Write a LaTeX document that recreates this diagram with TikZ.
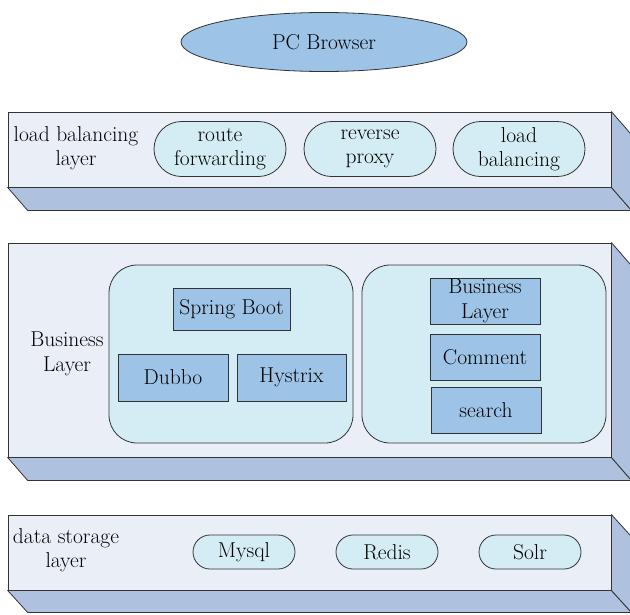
\documentclass[tikz,border=0pt]{standalone}
\usetikzlibrary{shapes.geometric,shapes.misc}
\definecolor{boxblue}{HTML}{9DC3E6}
\definecolor{pillcyan}{HTML}{D4ECF3}
\definecolor{layerfront}{HTML}{E9EEF7}
\definecolor{layerside}{HTML}{AEC2E0}
\tikzset{
  every node/.style={font=\fontsize{21.5}{24.5}\selectfont, text=black},
  layer/.style={draw, fill=layerfront, minimum width=603, inner sep=0},
  side/.style={draw, fill=layerside, line join=round},
  pill/.style={draw, fill=pillcyan, rounded rectangle, align=center, inner sep=0},
  group/.style={draw, fill=pillcyan, rounded corners=28, minimum width=244, minimum height=178},
  blk/.style={draw, fill=boxblue, minimum width=110, minimum height=47, inner sep=0, align=center},
}
\begin{document}
\begin{tikzpicture}[x=1pt, y=-1pt, line width=0.8pt, draw=black!80]
\useasboundingbox (0,0) rectangle (630,614);
% browser
\node[draw, fill=boxblue, ellipse, minimum width=286, minimum height=59] (pc) at (324,42) {PC Browser};

% load balancing layer
\node[layer, minimum height=75] (l1) at (309.5,149.5) {};
\path[side] (l1.south west) -- (l1.south east) -- ++(20,23) -- ([shift={(20,23)}]l1.south west) -- cycle;
\path[side] (l1.north east) -- ++(20,23) -- ([shift={(20,23)}]l1.south east) -- (l1.south east) -- cycle;
\node[align=center] (t1) at (76,148) {load balancing\\layer};
\node[pill, minimum width=132, minimum height=55] (route) at (220,149) {route\\forwarding};
\node[pill, minimum width=132, minimum height=55] (proxy) at (370,149) {reverse\\proxy};
\node[pill, minimum width=132, minimum height=55] (lb) at (519,149) {load\\balancing};

% business layer
\node[layer, minimum height=214] (l2) at (309.5,350) {};
\path[side] (l2.south west) -- (l2.south east) -- ++(20,23) -- ([shift={(20,23)}]l2.south west) -- cycle;
\path[side] (l2.north east) -- ++(20,23) -- ([shift={(20,23)}]l2.south east) -- (l2.south east) -- cycle;
\node[align=center] (t2) at (67,354) {Business\\Layer};
\node[group] (g1) at (231,354) {};
\node[group] (g2) at (484,354) {};
\node[blk, minimum width=117, minimum height=42] (spring) at (231.5,309) {Spring Boot};
\node[blk] (dubbo) at (173,377.5) {Dubbo};
\node[blk, minimum width=109] (hystrix) at (291.5,377.5) {Hystrix};
\node[blk, minimum height=46] (biz) at (485,301) {Business\\Layer};
\node[blk, minimum height=46] (comment) at (485,357) {Comment};
\node[blk, minimum height=46] (search) at (486,410) {search};

% data storage layer
\node[layer, minimum height=75] (l3) at (309.5,552.5) {};
\path[side] (l3.south west) -- (l3.south east) -- ++(20,22) -- ([shift={(20,22)}]l3.south west) -- cycle;
\path[side] (l3.north east) -- ++(20,22) -- ([shift={(20,22)}]l3.south east) -- (l3.south east) -- cycle;
\node[align=center] (t3) at (66,550) {data storage\\layer};
\node[pill, minimum width=102, minimum height=34] (mysql) at (244,552) {Mysql};
\node[pill, minimum width=102, minimum height=34] (redis) at (387,552) {Redis};
\node[pill, minimum width=102, minimum height=34] (solr) at (530,552) {Solr};
\end{tikzpicture}
\end{document}
